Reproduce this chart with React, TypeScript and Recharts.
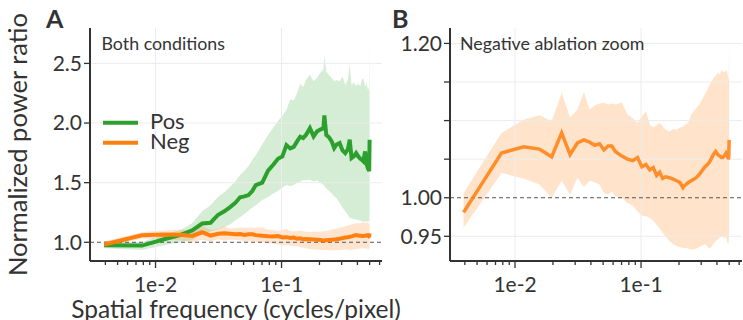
import React from "react";
import {
  ComposedChart,
  Area,
  Line,
  XAxis,
  YAxis,
  ReferenceLine,
  Legend,
} from "recharts";

// radial frequency bins of a 256 px image (cycles/pixel = bin / 256)
const imageSize = 256;
const bins = [
  1, 2, 3, 4, 5, 6, 7, 8, 9, 10, 11, 12, 13, 14, 15, 16, 18, 20, 22, 24, 26,
  28, 30, 32, 34, 36, 38, 40, 43, 46, 49, 52, 55, 56, 58, 61, 64, 67, 70, 74,
  78, 82, 86, 89, 92, 96, 100, 104, 108, 111, 114, 118, 121, 124, 126, 127,
  128,
];

// Pos ablation: mean and band
const posMean = [
  0.975, 0.972, 1.025, 1.06, 1.1, 1.157, 1.164, 1.229, 1.26, 1.295, 1.33,
  1.377, 1.385, 1.396, 1.43, 1.48, 1.5, 1.6, 1.65, 1.7, 1.72, 1.815, 1.787,
  1.8, 1.846, 1.885, 1.874, 1.9, 1.957, 1.888, 1.93, 1.945, 1.957, 2.063, 1.9,
  1.88, 1.846, 1.79, 1.82, 1.832, 1.77, 1.748, 1.78, 1.86, 1.706, 1.72, 1.748,
  1.72, 1.7, 1.692, 1.68, 1.762, 1.66, 1.62, 1.608, 1.595, 1.86,
];
const posHigh = [
  1.01, 1.0, 1.07, 1.1, 1.16, 1.26, 1.31, 1.38, 1.42, 1.466, 1.51, 1.564, 1.6,
  1.64, 1.69, 1.73, 1.82, 1.9, 1.96, 2.02, 2.06, 2.11, 2.2, 2.19, 2.25, 2.33,
  2.3, 2.36, 2.404, 2.35, 2.38, 2.42, 2.45, 2.571, 2.43, 2.4, 2.38, 2.35, 2.36,
  2.349, 2.39, 2.32, 2.36, 2.488, 2.32, 2.34, 2.31, 2.33, 2.307, 2.36, 2.376,
  2.3, 2.34, 2.278, 2.3, 2.25, 2.71,
];
const posLow = [
  0.95, 0.935, 0.975, 1.0, 1.02, 1.07, 1.09, 1.11, 1.13, 1.15, 1.185, 1.21,
  1.24, 1.265, 1.29, 1.31, 1.354, 1.38, 1.41, 1.43, 1.46, 1.48, 1.47, 1.48,
  1.5, 1.51, 1.52, 1.52, 1.524, 1.51, 1.52, 1.5, 1.482, 1.47, 1.45, 1.43, 1.41,
  1.385, 1.371, 1.33, 1.29, 1.26, 1.23, 1.204, 1.2, 1.195, 1.19, 1.185, 1.18,
  1.176, 1.17, 1.176, 1.17, 1.176, 1.18, 1.17, 1.22,
];

// Neg ablation: mean and band
const negMean = [
  0.981, 1.058, 1.066, 1.063, 1.053, 1.084, 1.056, 1.071, 1.075, 1.072, 1.068,
  1.07, 1.062, 1.067, 1.067, 1.06, 1.054, 1.05, 1.048, 1.052, 1.04, 1.043,
  1.036, 1.039, 1.029, 1.033, 1.025, 1.027, 1.026, 1.024, 1.022, 1.02, 1.013,
  1.015, 1.017, 1.02, 1.022, 1.024, 1.026, 1.03, 1.035, 1.04, 1.043, 1.046,
  1.05, 1.056, 1.06, 1.056, 1.054, 1.052, 1.052, 1.055, 1.058, 1.055, 1.05,
  1.052, 1.075,
];
const negHigh = [
  1.006, 1.084, 1.101, 1.107, 1.099, 1.136, 1.104, 1.114, 1.137, 1.114, 1.12,
  1.122, 1.123, 1.121, 1.122, 1.121, 1.123, 1.108, 1.103, 1.097, 1.106, 1.112,
  1.095, 1.091, 1.094, 1.097, 1.093, 1.088, 1.086, 1.089, 1.088, 1.091, 1.092,
  1.093, 1.095, 1.098, 1.108, 1.112, 1.116, 1.121, 1.127, 1.134, 1.14, 1.145,
  1.15, 1.155, 1.158, 1.162, 1.16, 1.165, 1.164, 1.163, 1.166, 1.162, 1.153,
  1.158, 1.205,
];
const negLow = [
  0.961, 1.032, 1.025, 1.017, 1.0, 1.022, 1.004, 1.026, 1.014, 1.022, 1.02,
  1.017, 1.006, 1.004, 1.008, 1.002, 1.0, 0.993, 0.99, 0.982, 0.977, 0.976,
  0.974, 0.97, 0.965, 0.96, 0.955, 0.95, 0.944, 0.94, 0.937, 0.936, 0.935,
  0.935, 0.935, 0.934, 0.933, 0.933, 0.934, 0.936, 0.938, 0.94, 0.937, 0.934,
  0.936, 0.94, 0.944, 0.946, 0.948, 0.95, 0.95, 0.947, 0.95, 0.942, 0.94,
  0.945, 0.961,
];

const seriesNames = ["Pos", "Neg"];

const freqTicks = [
  0.004, 0.005, 0.006, 0.007, 0.008, 0.009, 0.01, 0.02, 0.03, 0.04, 0.05,
  0.06, 0.07, 0.08, 0.09, 0.1, 0.2, 0.3, 0.4, 0.5, 0.6,
];
const majorFreqs = [0.01, 0.1];
const majorLabels = ["1e-2", "1e-1"];

const ticksA = [1.0, 1.5, 2.0, 2.5];
const ticksB = [0.95, 1.0, 1.05, 1.1, 1.15, 1.2];
const labelledB = [0.95, 1.0, 1.2];

const rows = bins.map((b, i) => ({
  f: b / imageSize,
  pos: posMean[i],
  posBand: [posLow[i], posHigh[i]],
  neg: negMean[i],
  negBand: [negLow[i], negHigh[i]],
}));

const FONT = "Lato, 'Open Sans', sans-serif";
const INK = "#333333";
const GREEN = "#2ca02c";
const ORANGE = "#ff7f0e";
const GRID = "#ececec";
const TICK_FS = 21;

const LogTick = (props: any) => {
  const { x, y, payload } = props;
  const idx = majorFreqs.findIndex((m) => Math.abs(m - payload.value) < 1e-9);
  const major = idx >= 0;
  return (
    <g>
      <line
        x1={x}
        x2={x}
        y1={y}
        y2={y + (major ? 7 : 4)}
        stroke={INK}
        strokeWidth={1.3}
      />
      {major && (
        <text
          x={x}
          y={y + 31}
          textAnchor="middle"
          fontSize={TICK_FS}
          fill={INK}
          fontFamily={FONT}
        >
          {majorLabels[idx]}
        </text>
      )}
    </g>
  );
};

const LegendBox = () => (
  <svg width={100} height={45} style={{ overflow: "visible" }}>
    {seriesNames.map((name, i) => (
      <g key={name}>
        <line
          x1={3}
          x2={38}
          y1={12.7 + i * 20}
          y2={12.7 + i * 20}
          stroke={i === 0 ? GREEN : ORANGE}
          strokeWidth={4}
        />
        <text
          x={50}
          y={19 + i * 20.3}
          fontSize={22}
          fill={INK}
          fontFamily={FONT}
        >
          {name}
        </text>
      </g>
    ))}
  </svg>
);

const xAxisProps = {
  dataKey: "f",
  type: "number" as const,
  scale: "log" as const,
  allowDataOverflow: true,
  ticks: freqTicks,
  interval: 0 as const,
  tick: <LogTick />,
  tickLine: false,
  tickSize: 0,
  tickMargin: 0,
  axisLine: { stroke: INK, strokeWidth: 2 },
  height: 30,
};

const PanelA = () => (
  <ComposedChart
    width={390}
    height={320}
    data={rows}
    margin={{ top: 28, right: 8, bottom: 29, left: 30 }}
  >
    <XAxis {...xAxisProps} domain={[0.00302, 0.627]} />
    <YAxis
      type="number"
      domain={[0.843, 2.797]}
      allowDataOverflow
      ticks={ticksA}
      interval={0}
      width={60}
      tickFormatter={(v: number) => v.toFixed(1)}
      tick={{ fontSize: TICK_FS, fill: INK, fontFamily: FONT }}
      tickLine={{ stroke: INK, strokeWidth: 1.3 }}
      tickSize={6}
      tickMargin={2}
      axisLine={{ stroke: INK, strokeWidth: 2 }}
    />
    {majorFreqs.map((m) => (
      <ReferenceLine key={m} x={m} stroke={GRID} strokeWidth={1} />
    ))}
    {ticksA.slice(1).map((t) => (
      <ReferenceLine key={t} y={t} stroke={GRID} strokeWidth={1} />
    ))}
    <Area
      dataKey="posBand"
      type="linear"
      stroke="none"
      fill={GREEN}
      fillOpacity={0.2}
      isAnimationActive={false}
    />
    <Area
      dataKey="negBand"
      type="linear"
      stroke="none"
      fill={ORANGE}
      fillOpacity={0.2}
      isAnimationActive={false}
    />
    <ReferenceLine y={1} stroke="#555" strokeWidth={1} strokeDasharray="4 3" />
    <Line
      dataKey="pos"
      type="linear"
      stroke={GREEN}
      strokeWidth={4}
      dot={false}
      isAnimationActive={false}
    />
    <Line
      dataKey="neg"
      type="linear"
      stroke={ORANGE}
      strokeWidth={4}
      dot={false}
      isAnimationActive={false}
    />
    <Legend
      layout="vertical"
      align="center"
      verticalAlign="middle"
      wrapperStyle={{ left: 100, top: 110, width: 100, height: 45 }}
      content={() => <LegendBox />}
    />
  </ComposedChart>
);

const PanelB = () => (
  <ComposedChart
    width={363}
    height={320}
    data={rows}
    margin={{ top: 28, right: 1, bottom: 29, left: 30 }}
  >
    <XAxis {...xAxisProps} domain={[0.00305, 0.632]} />
    <YAxis
      type="number"
      domain={[0.918, 1.22]}
      allowDataOverflow
      ticks={ticksB}
      interval={0}
      width={40}
      tickFormatter={(v: number) =>
        labelledB.some((l) => Math.abs(l - v) < 1e-9) ? v.toFixed(2) : ""
      }
      tick={{ fontSize: TICK_FS, fill: INK, fontFamily: FONT }}
      tickLine={{ stroke: INK, strokeWidth: 1.3 }}
      tickSize={6}
      tickMargin={2}
      axisLine={{ stroke: INK, strokeWidth: 2 }}
    />
    {majorFreqs.map((m) => (
      <ReferenceLine key={m} x={m} stroke={GRID} strokeWidth={1} />
    ))}
    {ticksB
      .filter((t) => t !== 1)
      .map((t) => (
        <ReferenceLine key={t} y={t} stroke={GRID} strokeWidth={1} />
      ))}
    <Area
      dataKey="negBand"
      type="linear"
      stroke="none"
      fill={ORANGE}
      fillOpacity={0.22}
      isAnimationActive={false}
    />
    <ReferenceLine y={1} stroke="#555" strokeWidth={1} strokeDasharray="4 3" />
    <Line
      dataKey="neg"
      type="linear"
      stroke={ORANGE}
      strokeOpacity={0.85}
      strokeWidth={3.5}
      dot={false}
      isAnimationActive={false}
    />
  </ComposedChart>
);

export default function App() {
  return (
    <div
      style={{
        position: "absolute",
        left: 0,
        top: 0,
        width: 743,
        height: 320,
        background: "#fff",
        fontFamily: FONT,
        overflow: "hidden",
      }}
    >
      <div style={{ position: "absolute", left: 0, top: 0 }}>
        <PanelA />
      </div>
      <div style={{ position: "absolute", left: 380, top: 0 }}>
        <PanelB />
      </div>
      <svg
        width={743}
        height={320}
        style={{ position: "absolute", left: 0, top: 0, pointerEvents: "none" }}
        fontFamily={FONT}
        fill={INK}
      >
        <text x={46} y={28} fontSize={25} fontWeight={700}>
          A
        </text>
        <text x={392} y={28} fontSize={25} fontWeight={700}>
          B
        </text>
        <text x={101.5} y={49.5} fontSize={17.8}>
          Both conditions
        </text>
        <text x={460} y={49.5} fontSize={17.8}>
          Negative ablation zoom
        </text>
        <text x={236} y={317.5} fontSize={24.5} textAnchor="middle">
          Spatial frequency (cycles/pixel)
        </text>
        <text
          transform="translate(26.5,144.5) rotate(-90)"
          fontSize={25.5}
          textAnchor="middle"
        >
          Normalized power ratio
        </text>
      </svg>
    </div>
  );
}
